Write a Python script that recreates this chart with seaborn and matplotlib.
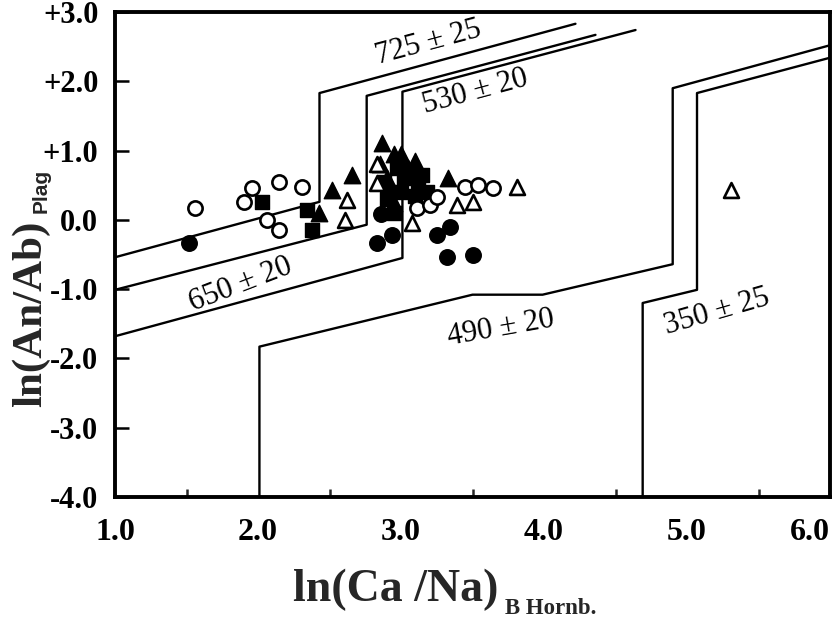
import matplotlib
matplotlib.use("Agg")
import matplotlib.pyplot as plt
import seaborn as sns
import numpy as np

sns.set_theme(style="white")
plt.rcParams['font.family'] = ['Liberation Serif', 'DejaVu Serif']

# ---- isotherm boundary curves (ln(Ca/Na)_B Hornb., ln(An/Ab)_Plag) ----
line_a_x = [1.00, 2.43, 2.43, 4.22]
line_a_y = [-0.54, 0.26, 1.83, 2.83]
line_b_x = [1.00, 2.76, 2.76, 4.36]
line_b_y = [-1.01, -0.07, 1.79, 2.67]
line_c_x = [1.00, 3.01, 3.01, 4.64]
line_c_y = [-1.68, -0.55, 1.85, 2.74]
line_d_x = [2.01, 2.01, 3.50, 3.99, 4.90, 4.90, 6.00]
line_d_y = [-4.00, -1.83, -1.08, -1.08, -0.64, 1.90, 2.52]
line_e_x = [4.69, 4.69, 5.07, 5.07, 6.00]
line_e_y = [-4.00, -1.20, -1.01, 1.83, 2.34]

# ---- isotherm labels ----
label_texts = ["725 \u00b1 25", "530 \u00b1 20", "650 \u00b1 20", "490 \u00b1 20", "350 \u00b1 25"]
label_x = [3.19, 3.52, 1.88, 3.70, 5.21]
label_y = [2.56, 1.85, -0.93, -1.57, -1.33]
label_rot = [15, 15, 21, 10, 16]

# ---- samples ----
open_circle_x = [1.56, 1.90, 1.96, 2.15, 2.31, 2.06, 2.15, 3.11, 3.20, 3.25, 3.45, 3.54, 3.64]
open_circle_y = [0.17, 0.26, 0.46, 0.55, 0.47, 0.00, -0.15, 0.17, 0.21, 0.33, 0.47, 0.50, 0.46]
filled_circle_x = [1.52, 2.83, 2.94, 3.25, 3.34, 3.32, 3.50, 2.86]
filled_circle_y = [-0.33, -0.33, -0.22, -0.22, -0.10, -0.54, -0.51, 0.08]
filled_tri_x = [2.43, 2.52, 2.66, 2.87, 2.85, 2.95, 3.05, 3.33, 2.92, 2.90, 3.00, 2.95, 3.10]
filled_tri_y = [0.10, 0.43, 0.65, 1.11, 0.80, 0.95, 0.75, 0.60, 0.45, 0.60, 0.95, 0.25, 0.85]
filled_sq_x = [2.03, 2.34, 2.38, 2.90, 3.00, 3.06, 3.15, 3.10, 2.95, 2.88, 3.02, 3.12, 2.97, 3.18]
filled_sq_y = [0.26, 0.14, -0.15, 0.30, 0.40, 0.72, 0.65, 0.35, 0.10, 0.55, 0.60, 0.50, 0.75, 0.40]
open_tri_x = [2.62, 2.61, 2.83, 2.83, 3.08, 3.39, 3.50, 3.81, 5.31]
open_tri_y = [0.29, 0.00, 0.53, 0.80, -0.04, 0.21, 0.26, 0.48, 0.43]

x_ticks = [1.0, 2.0, 3.0, 4.0, 5.0, 6.0]
x_ticklabels = ["1.0", "2.0", "3.0", "4.0", "5.0", "6.0"]
y_ticks = [3.0, 2.0, 1.0, 0.0, -1.0, -2.0, -3.0, -4.0]
y_ticklabels = ["+3.0", "+2.0", "+1.0", "0.0", "-1.0", "-2.0", "-3.0", "-4.0"]

fig = plt.figure(figsize=(8.38, 6.19), dpi=100)
ax = fig.add_axes([115/838, 1-497/619, (830-115)/838, (497-12)/619])
ax.set_facecolor('white')

for lx, ly in [(line_a_x, line_a_y), (line_b_x, line_b_y), (line_c_x, line_c_y),
               (line_d_x, line_d_y), (line_e_x, line_e_y)]:
    sns.lineplot(x=lx, y=ly, sort=False, estimator=None, color='black',
                 linewidth=1.7, ax=ax, zorder=2)

sns.scatterplot(x=filled_sq_x, y=filled_sq_y, marker='s', s=115, color='black',
                edgecolor='black', linewidth=1, ax=ax, zorder=3)
sns.scatterplot(x=filled_tri_x, y=filled_tri_y, marker='^', s=140, color='black',
                edgecolor='black', linewidth=1, ax=ax, zorder=3)
sns.scatterplot(x=filled_circle_x, y=filled_circle_y, marker='o', s=125, color='black',
                edgecolor='black', linewidth=1, ax=ax, zorder=3)
sns.scatterplot(x=open_tri_x, y=open_tri_y, marker='^', s=115, color='white',
                edgecolor='black', linewidth=1.9, ax=ax, zorder=4)
sns.scatterplot(x=open_circle_x, y=open_circle_y, marker='o', s=105, color='white',
                edgecolor='black', linewidth=1.9, ax=ax, zorder=4)

for t, x, y, r in zip(label_texts, label_x, label_y, label_rot):
    ax.text(x, y, t, rotation=r, ha='center', va='center', fontsize=22,
            color='black', rotation_mode='anchor', zorder=5)

ax.set_xlim(1.0, 6.0)
ax.set_ylim(-4.0, 3.0)
ax.set_xticks(x_ticks)
ax.set_xticklabels(x_ticklabels, fontsize=23, fontweight='bold')
ax.set_xticks([1.5, 2.5, 3.5, 4.5, 5.5], minor=True)
ax.set_yticks(y_ticks)
ax.set_yticklabels(y_ticklabels, fontsize=22, fontweight='bold')
ax.get_xticklabels()[-1].set_ha('right')
ax.tick_params(axis='x', which='major', direction='inout', length=12, width=1.8,
               pad=9, colors='black')
ax.tick_params(axis='x', which='minor', direction='in', length=6, width=1.8,
               bottom=True)
ax.tick_params(axis='y', which='major', direction='in', length=10, width=1.8,
               pad=12, left=True, colors='black')
for sp in ax.spines.values():
    sp.set_visible(True)
    sp.set_color('black')
    sp.set_linewidth(2.8)
ax.set_xlabel('')
ax.set_ylabel('')

# axis titles with subscripts
fig.text(396/838, 1-601/619, 'ln(Ca /Na)', fontsize=33, fontweight='bold',
         ha='center', va='baseline')
fig.text(505/838, 1-614/619, 'B Hornb.', fontsize=16.5, fontweight='bold',
         ha='left', va='baseline')
fig.text(31/838, 1-314/619, 'ln(An/Ab)', fontsize=31, fontweight='bold',
         rotation=90, ha='center', va='center')
fig.text(41/838, 1-191/619, 'Plag', fontsize=15, fontweight='bold',
         family=['Liberation Sans', 'DejaVu Sans'], rotation=90,
         ha='center', va='center')

fig.savefig('out.png', dpi=100, facecolor='white')
